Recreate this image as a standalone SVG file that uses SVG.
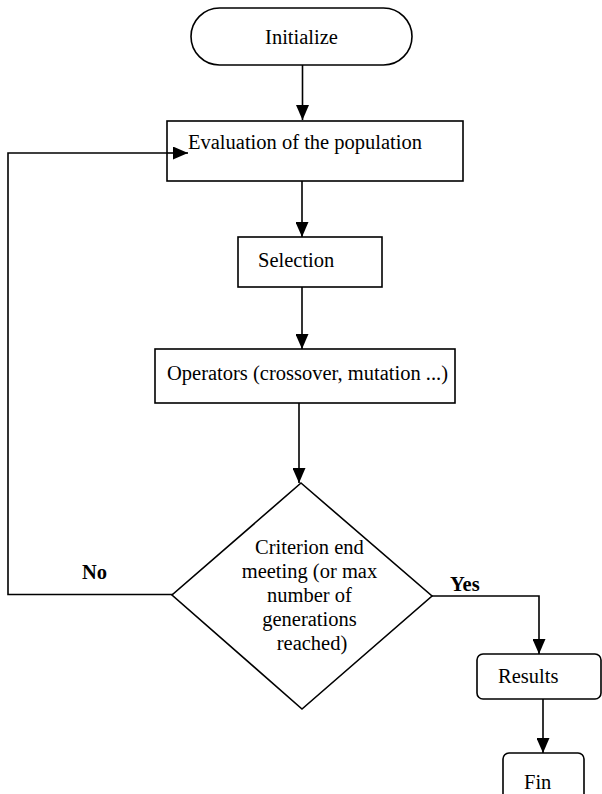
<svg xmlns="http://www.w3.org/2000/svg" width="602" height="794" viewBox="0 0 602 794">
<defs>
<marker id="ah" markerWidth="15" markerHeight="13" refX="15" refY="6.5" orient="auto" markerUnits="userSpaceOnUse">
<path d="M0,0 L15,6.5 L0,13 Z" fill="#000"/>
</marker>
<style>
.box{fill:#fff;stroke:#000;stroke-width:1.6}
.ln{fill:none;stroke:#000;stroke-width:1.6}
.t{font-family:"Liberation Serif","Times New Roman",serif;font-size:20.5px;fill:#000}
.b{font-weight:bold}
</style>
</defs>
<rect width="602" height="794" fill="#fff"/>
<g id="connectors">
<line class="ln" x1="302.5" y1="65" x2="302.5" y2="120" marker-end="url(#ah)"/>
<line class="ln" x1="302" y1="181" x2="302" y2="237" marker-end="url(#ah)"/>
<line class="ln" x1="302" y1="287" x2="302" y2="349" marker-end="url(#ah)"/>
<line class="ln" x1="299" y1="403" x2="299" y2="483" marker-end="url(#ah)"/>
<polyline class="ln" points="183,594.5 8,594.5 8,153 188,153" marker-end="url(#ah)"/>
<polyline class="ln" points="432,596 539,596 539,654" marker-end="url(#ah)"/>
<line class="ln" x1="543" y1="699" x2="543" y2="753" marker-end="url(#ah)"/>
<text class="t b" x="82" y="579">No</text>
<text class="t b" x="450" y="591">Yes</text>
</g>
<g id="initialize">
<rect class="box" x="191" y="8" width="221" height="57" rx="28.5"/>
<text class="t" x="301.5" y="44" text-anchor="middle">Initialize</text>
</g>
<g id="evaluation">
<rect class="box" x="167" y="121" width="296" height="60"/>
<text class="t" x="188" y="149">Evaluation of the population</text>
</g>
<line class="ln" x1="167" y1="153" x2="188" y2="153" marker-end="url(#ah)"/>
<g id="selection">
<rect class="box" x="238" y="237" width="144" height="50"/>
<text class="t" x="258" y="267">Selection</text>
</g>
<g id="operators">
<rect class="box" x="155" y="349" width="300" height="54"/>
<text class="t" x="167" y="380">Operators (crossover, mutation ...)</text>
</g>
<g id="criterion">
<polygon class="box" points="301,483 432,596 302,709 172,595"/>
<text class="t" text-anchor="middle">
<tspan x="312" y="554">Criterion end</tspan>
<tspan x="312" y="578">meeting (or max</tspan>
<tspan x="312" y="602">number of</tspan>
<tspan x="312" y="626">generations</tspan>
<tspan x="312" y="650">reached)</tspan>
</text>
</g>
<g id="results">
<rect class="box" x="477" y="654" width="124" height="45" rx="6"/>
<text class="t" x="498" y="683">Results</text>
</g>
<g id="fin">
<rect class="box" x="503" y="753" width="81" height="60" rx="6"/>
<text class="t" x="524" y="789">Fin</text>
</g>
</svg>
